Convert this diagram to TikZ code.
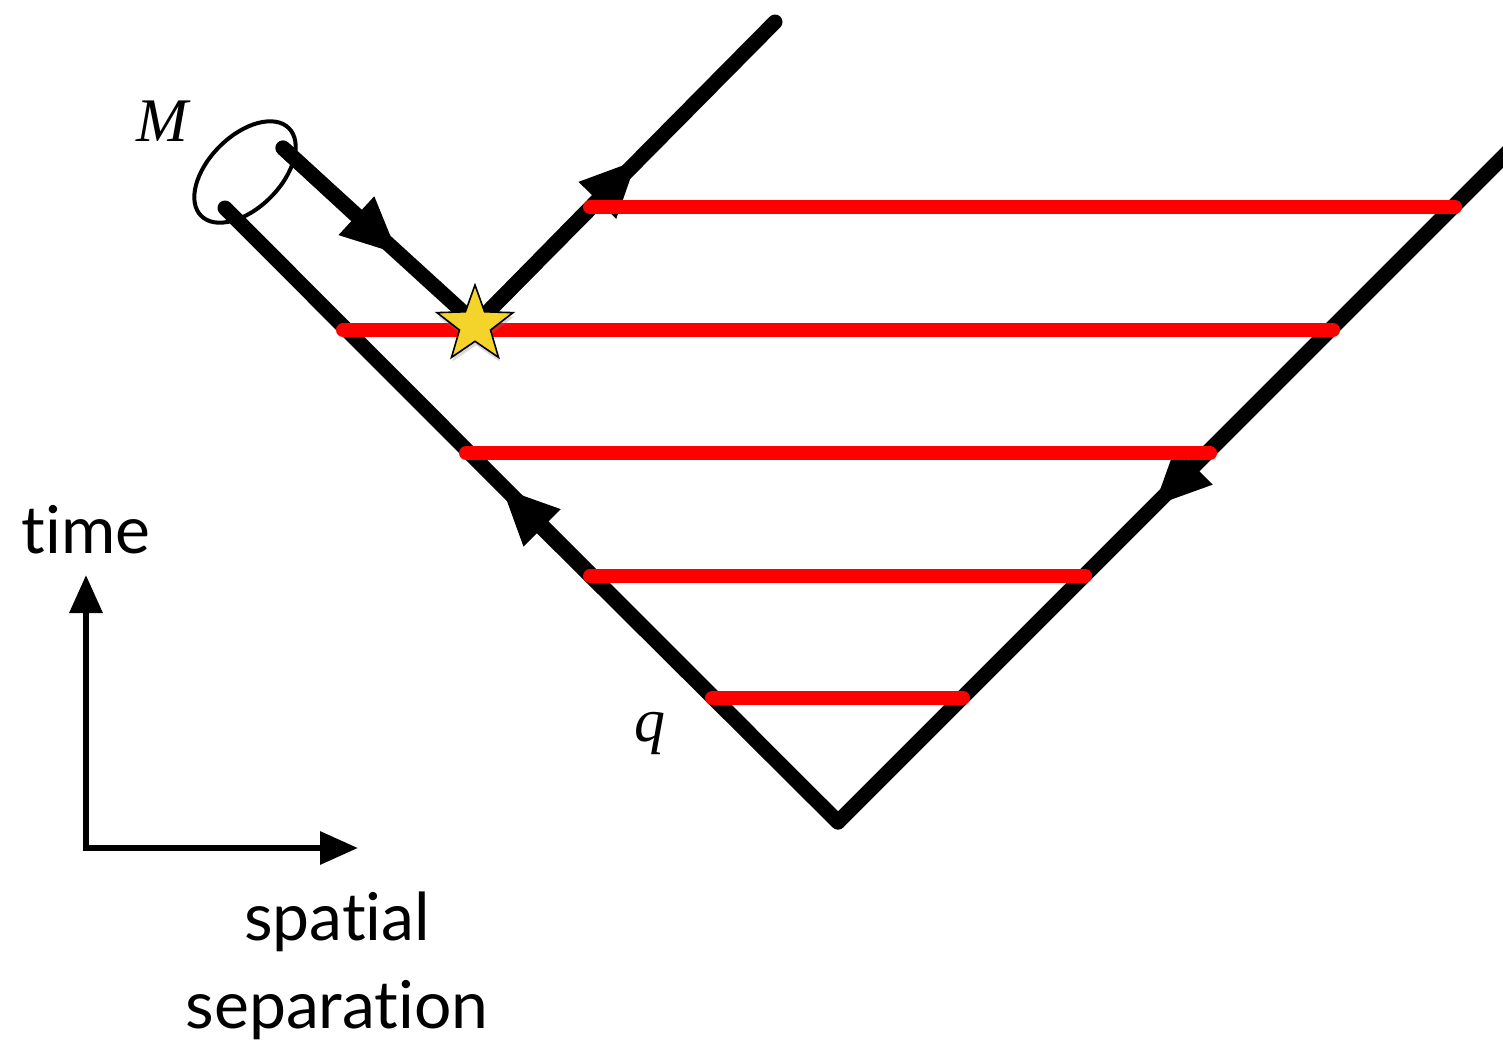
\documentclass[tikz,border=0pt]{standalone}
\usepackage{fontspec}
\setmainfont{Lato}[Ligatures={NoCommon,NoContextual}]
\newfontfamily\labelserif{Liberation Serif}
\usetikzlibrary{arrows.meta,shapes.geometric,shadows}
\definecolor{redline}{RGB}{255,0,0}
\definecolor{staryellow}{RGB}{244,211,43}
\tikzset{
  worldline/.style={line width=7.5pt,line cap=round,line join=round,black},
  slice/.style={line width=7pt,line cap=round,redline},
  bigtip/.style={-{Triangle[length=29pt,width=24pt]}},
  axisline/.style={line width=3.2pt,-{Triangle[length=19pt,width=16pt]}},
  lbl/.style={font=\fontsize{33}{38}\selectfont,inner sep=0pt},
  mathlbl/.style={font=\labelserif\itshape\fontsize{31}{36}\selectfont,inner sep=0pt}
}
\begin{document}
\begin{tikzpicture}[x=0.5pt,y=-0.5pt]
\useasboundingbox (0,0) rectangle (1503,1044);
% key points
\coordinate (V) at (838,822);
\coordinate (L) at (225,208);
\coordinate (R) at (1512,148);
\coordinate (T1) at (283,148);
\coordinate (S) at (476,324);
\coordinate (U) at (775,22);
\coordinate (A1) at (399,255);
\coordinate (A2) at (638,159);
\coordinate (A3) at (501,487);
\coordinate (A4) at (1153,507);
% red slices
\coordinate (r1a) at (590,207); \coordinate (r1b) at (1455,207);
\coordinate (r2a) at (343,330); \coordinate (r2b) at (1333,330);
\coordinate (r3a) at (466,453); \coordinate (r3b) at (1210,453);
\coordinate (r4a) at (590,576); \coordinate (r4b) at (1085,576);
\coordinate (r5a) at (712,698); \coordinate (r5b) at (963,698);
% black world lines
\draw[worldline] (L) -- (V) -- (R);
\draw[worldline] (T1) -- (S) -- (U);
\draw[worldline,bigtip] (T1) -- (A1);
\draw[worldline,bigtip] (S) -- (A2);
\draw[worldline,bigtip] (V) -- (A3);
\draw[worldline,bigtip] (R) -- (A4);
% red slices
\draw[slice] (r1a) -- (r1b);
\draw[slice] (r2a) -- (r2b);
\draw[slice] (r3a) -- (r3b);
\draw[slice] (r4a) -- (r4b);
\draw[slice] (r5a) -- (r5b);
% ellipse (mouth)
\node[draw,ellipse,line width=2pt,rotate=45,minimum width=62pt,minimum height=36pt,inner sep=0pt] (mouth) at (245,172) {};
% star
\node[star,star points=5,star point ratio=2.45,minimum size=40pt,inner sep=0pt,
      fill=staryellow,draw=black,line width=0.8pt,
      drop shadow={opacity=0.3,shadow xshift=0.5pt,shadow yshift=-2pt}] (star) at (475,325) {};
% labels
\node[mathlbl] (M) at (162,121) {M};
\node[mathlbl] (q) at (650,733) {q};
\node[lbl] (time) at (86,530) {time};
\node[lbl] (spatial) at (337,922) {spatial};
\node[lbl] (sep) at (337,1010) {separation};
% axes
\coordinate (O) at (86,848);
\coordinate (Ty) at (86,575);
\coordinate (Tx) at (358,848);
\draw[axisline] ([yshift=1.6pt]O) -- (Ty);
\draw[axisline] ([xshift=-1.6pt]O) -- (Tx);
\end{tikzpicture}
\end{document}
